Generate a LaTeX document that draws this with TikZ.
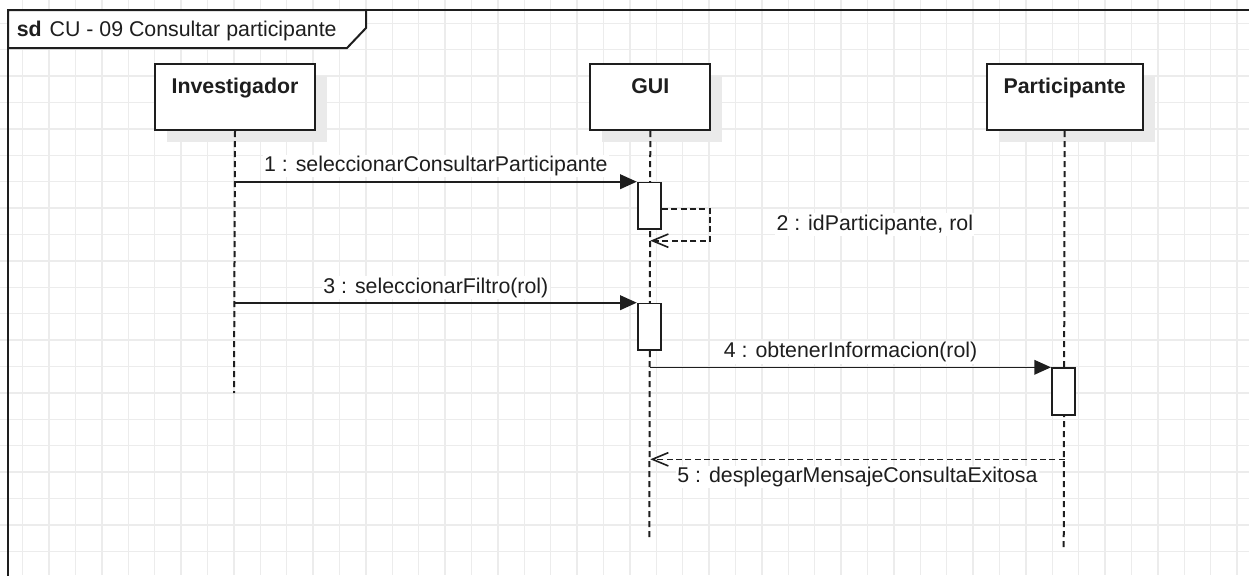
\documentclass[tikz,border=0pt]{standalone}
\usepackage{fontspec}
\setmainfont{Liberation Sans}
\usetikzlibrary{arrows.meta,shadows}
\definecolor{gridc}{RGB}{236,236,236}
\definecolor{shadc}{RGB}{234,234,234}
\definecolor{ink}{RGB}{30,30,30}
\begin{document}
\begin{tikzpicture}[x=0.75pt,y=-0.75pt,
  font=\fontsize{16}{19}\selectfont,
  actor/.style={draw=ink, line width=1.5pt, fill=white, inner sep=0pt,
    minimum height=49.5pt, text height=21.75pt, text depth=27.75pt,
    font=\fontsize{16}{19}\selectfont\bfseries, text=ink, anchor=north west,
    general shadow={fill=shadc, draw=none, shadow xshift=9pt, shadow yshift=-9pt}},
  act/.style={draw=ink, line width=1.3pt, fill=white, minimum width=17.5pt,
    minimum height=35pt, inner sep=0pt, anchor=north},
  life/.style={draw=ink, line width=1.5pt, dash pattern=on 4.5pt off 3pt},
  call/.style={draw=ink, line width=1.2pt, -{Triangle[length=12.5pt,width=11pt]}},
  reply/.style={draw=ink, line width=1.2pt, dash pattern=on 4.5pt off 2.5pt,
    -{Straight Barb[length=12pt,width=10pt]}},
  lbl/.style={fill=white, inner sep=1pt, text=ink}
]
\useasboundingbox (0,0) rectangle (1249,575);
\clip (0,0) rectangle (1249,575);
% grid
\foreach \i in {0,...,46}
  \draw[gridc, line width=1.1pt] ({22.7+26.4*\i},0) -- ({22.7+26.4*\i},575);
\foreach \j in {0,...,20}
  \draw[gridc, line width=1.1pt] (0,{23.3+26.4*\j}) -- (1249,{23.3+26.4*\j});
% frame
\draw[ink, line width=1.5pt] (8,590) -- (8,10) -- (1260,10);
\draw[ink, line width=1.5pt, fill=white] (8,10) -- (366,10) -- (366,28) -- (347,48) -- (8,48) -- cycle;
\node[anchor=base west, inner sep=0pt, text=ink] (title) at (16.5,36)
  {\textbf{sd}\hspace{6pt}CU - 09 Consultar participante};
% lifeline heads
\node[actor, minimum width=120pt] (inv) at (154,63) {Investigador};
\node[actor, minimum width=90pt] (gui) at (589.3,63) {GUI};
\node[actor, minimum width=117pt] (part) at (985.7,63) {Participante};
% lifelines
\coordinate (invend) at (234,393);
\coordinate (guiend) at (649.3,538);
\coordinate (partend) at (1063.7,550);
\draw[life] (inv.south) -- (invend);
\draw[life] (gui.south) -- (guiend);
\draw[life] (part.south) -- (partend);
% activations
\node[act] (a1) at (649.3,181.7) {};
\node[act] (a2) at (649.3,302.7) {};
\node[act] (a3) at (1063.5,367.3) {};
% messages
\draw[call] (inv.south |- a1.north) -- (a1.north west)
  node[midway, lbl, anchor=base, yshift=7.8pt] (l1) {1 : seleccionarConsultarParticipante};
\coordinate (r2) at (710,240.7);
\draw[reply] ([yshift=-2.5pt]a1.east) -| (r2) -- (gui.south |- r2);
\node[lbl, anchor=base west] (l2) at (775,230) {2 : idParticipante, rol};
\draw[call] (inv.south |- a2.north) -- (a2.north west)
  node[midway, lbl, anchor=base, yshift=7.2pt] (l3) {3 : seleccionarFiltro(rol)};
\draw[call] (gui.south |- a3.north) -- (a3.north west)
  node[midway, lbl, anchor=base, yshift=7pt] (l4) {4 : obtenerInformacion(rol)};
\coordinate (y5) at (0,459.3);
\draw[reply] (part.south |- y5) -- (gui.south |- y5)
  node[midway, lbl, anchor=base, yshift=-17.5pt] (l5) {5 : desplegarMensajeConsultaExitosa};
\end{tikzpicture}
\end{document}
